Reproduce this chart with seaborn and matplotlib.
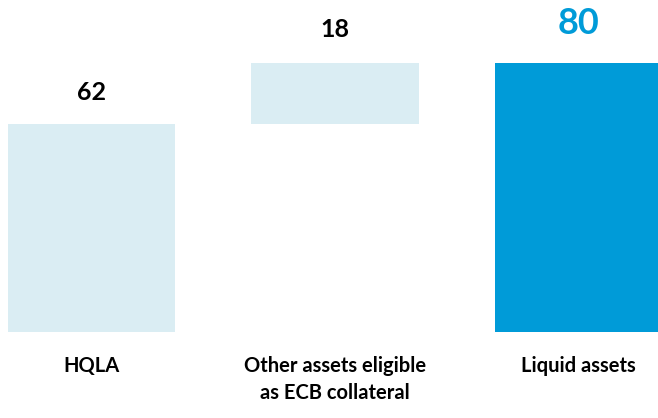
import matplotlib
matplotlib.use("Agg")
import matplotlib.pyplot as plt
import seaborn as sns

# Liquidity waterfall: HQLA plus other ECB-eligible assets gives total liquid assets
categories = ["HQLA", "Other assets eligible\nas ECB collateral", "Liquid assets"]
values = [62, 18, 80]
bases = [0, 62, 0]
bar_colors = ["#daedf3", "#daedf3", "#009bd8"]
label_colors = ["#000000", "#000000", "#009bd8"]
label_sizes = [18, 18, 26]

sns.set_theme(style="white")
plt.rcParams["font.family"] = ["Lato", "DejaVu Sans"]

fig = plt.figure(figsize=(6.58, 4.18), dpi=100)
ax = fig.add_axes([0, 86 / 418, 1, 269 / 418])

sns.barplot(x=categories, y=values, bottom=bases, width=0.686,
            color=bar_colors[0], saturation=1, ax=ax)
for patch, c in zip(ax.patches, bar_colors):
    patch.set_facecolor(c)
    patch.set_edgecolor("none")

ax.set_xlim(-91.5 / 243.5, (658 - 91.5) / 243.5)
ax.set_ylim(0, 80)

offsets = [17, 19, 21]
for i, (v, b) in enumerate(zip(values, bases)):
    ax.annotate(f"{v}", xy=(i, v + b), xytext=(0, offsets[i]),
                textcoords="offset points", ha="center", va="baseline",
                fontsize=label_sizes[i], fontweight="bold",
                color=label_colors[i], annotation_clip=False)

ax.set_xticks(range(len(categories)))
ax.set_xticklabels(categories, fontsize=14.5, fontweight="bold", color="black",
                   linespacing=1.45)
ax.tick_params(axis="x", length=0, pad=17)
ax.set_yticks([])
ax.set_ylabel("")
for s in ax.spines.values():
    s.set_visible(False)
ax.set_facecolor("white")

fig.savefig("out.png", dpi=100, facecolor="white")
